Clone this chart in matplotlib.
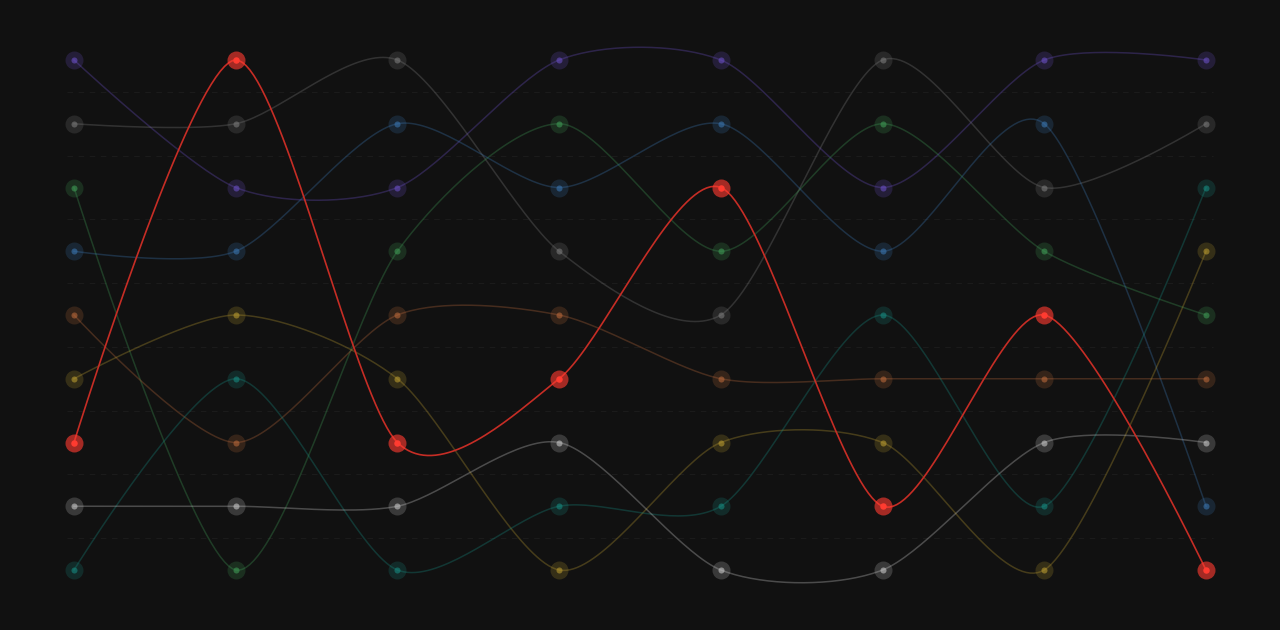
import numpy as np
import matplotlib
matplotlib.use('Agg')
import matplotlib.pyplot as plt

# rank of each series at each of the 8 steps (1 = top)
steps = list(range(8))
purple = [1, 3, 3, 1, 1, 3, 1, 1]
gray = [2, 2, 1, 4, 5, 1, 3, 2]
green = [3, 9, 4, 2, 4, 2, 4, 5]
blue = [4, 4, 2, 3, 2, 4, 2, 8]
brown = [5, 7, 5, 5, 6, 6, 6, 6]
yellow = [6, 5, 6, 9, 7, 7, 9, 4]
red = [7, 1, 7, 6, 3, 8, 5, 9]
light = [8, 8, 8, 7, 9, 9, 7, 7]
teal = [9, 6, 9, 8, 8, 5, 8, 3]

series = [
    (purple, '#6a4fc4'),
    (gray, '#7a7a7a'),
    (green, '#3f9a55'),
    (blue, '#3a75b0'),
    (brown, '#b8683a'),
    (yellow, '#b89a30'),
    (teal, '#178a80'),
    (light, '#c8c8c8'),
]
highlight = (red, '#ff3b30')

bg = '#111111'

dx = (1206 - 74) / 7
dy = (570 - 60) / 8


def cardinal(x, y, tension=0.2, n=40):
    # cardinal spline through the points (drawing only)
    p = np.column_stack([np.asarray(x, float), np.asarray(y, float)])
    k = len(p)
    kk = (1 - tension) / 6
    t = np.linspace(0, 1, n)[:, None]
    out = []
    for i in range(k - 1):
        p1, p2 = p[i], p[i + 1]
        c1 = p1 + kk * (p2 - p[i - 1]) if i > 0 else p1
        c2 = p2 - kk * (p[i + 2] - p1) if i < k - 2 else p2
        seg = ((1 - t) ** 3) * p1 + 3 * ((1 - t) ** 2) * t * c1 \
            + 3 * (1 - t) * t ** 2 * c2 + t ** 3 * p2
        out.append(seg if i == 0 else seg[1:])
    out = np.vstack(out)
    return out[:, 0], out[:, 1]


fig = plt.figure(figsize=(12.8, 6.3), dpi=100, facecolor=bg)
ax = fig.add_axes([0, 0, 1, 1], facecolor=bg)

ax.set_xlim(-74 / dx, 7 + 74 / dx)
ax.set_ylim(9 + 60 / dy, 1 - 60 / dy)
ax.axis('off')

# faint dashed separators between ranks
for r in range(1, 9):
    ax.plot([-7 / dx, 7 + 7 / dx], [r + 0.5, r + 0.5], color='#1b1b1b',
            lw=0.8, ls=(0, (5, 5)), zorder=0)

for ranks, col in series:
    sx, sy = cardinal(steps, ranks)
    ax.plot(sx, sy, color=col, alpha=0.32, lw=1.1, zorder=1)
    ax.scatter(steps, ranks, s=168, color=col, alpha=0.22, lw=0, zorder=2)
    ax.scatter(steps, ranks, s=19, color=col, alpha=0.6, lw=0, zorder=3)

ranks, col = highlight
sx, sy = cardinal(steps, ranks)
ax.plot(sx, sy, color='#c62d25', lw=1.2, zorder=4)
ax.scatter(steps, ranks, s=168, color=col, alpha=0.62, lw=0, zorder=5)
ax.scatter(steps, ranks, s=22, color=col, lw=0, zorder=6)

fig.savefig('out.png', dpi=100, facecolor=bg)
